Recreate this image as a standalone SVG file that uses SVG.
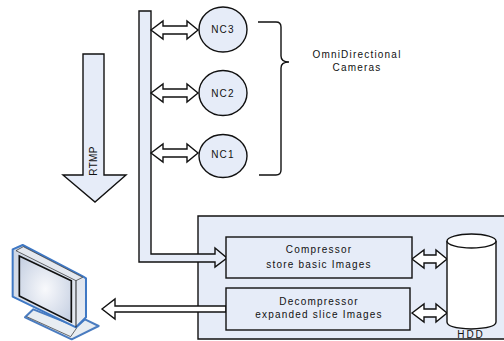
<svg xmlns="http://www.w3.org/2000/svg" width="504" height="341" viewBox="0 0 504 341">
<defs>
<radialGradient id="scr" cx="0.5" cy="0.5" r="0.65"><stop offset="0" stop-color="#f8f9fc"/><stop offset="1" stop-color="#c6d0e2"/></radialGradient>
<linearGradient id="bez" x1="0" y1="0" x2="1" y2="1"><stop offset="0" stop-color="#ccd5e4"/><stop offset="1" stop-color="#e9edf3"/></linearGradient>
</defs>
<style>
.f{fill:#e6ecf8;stroke:#111;stroke-width:1.4}
.w{fill:#fff;stroke:#111;stroke-width:1.4}
.t{font-family:"Liberation Sans",Arial,sans-serif;font-size:10px;fill:#111;text-anchor:middle;letter-spacing:1.2px}
</style>
<rect width="504" height="341" fill="#fff"/>
<g id="server"><path class="f" d="M505 216H198V339H505"/></g>
<g id="connectors">
<path id="bus" class="f" d="M139 11H151V254H215V248L227 258L215 267V262H139Z"/>
<path class="w" d="M151 30L163 21V26H187V21L198 30L187 39V34H163V39Z"/>
<path class="w" d="M151 93L163 84V89H187V84L198 93L187 102V97H163V102Z"/>
<path class="w" d="M151 153L163 144V149H187V144L198 153L187 162V157H163V162Z"/>
<path class="w" d="M412 259L424 250V255H436V250L447 259L436 268V263H424V268Z"/>
<path class="w" d="M412 313L424 304V309H436V304L447 313L436 322V317H424V322Z"/>
<path class="w" d="M102 309L115 299V306H226V312H115V319Z"/>
</g>
<g id="rtmp"><path class="f" d="M83 54H104V175H126L95 202L63 175H83Z"/><text class="t" transform="translate(96.500 161) rotate(-90)" style="letter-spacing:.3px">RTMP</text></g>
<g id="nc3"><ellipse class="f" cx="223" cy="29.500" rx="24" ry="22.500"/><text class="t" x="223" y="33">NC3</text></g>
<g id="nc2"><ellipse class="f" cx="223" cy="93" rx="24" ry="22.500"/><text class="t" x="223" y="96.500">NC2</text></g>
<g id="nc1"><ellipse class="f" cx="223" cy="156" rx="24" ry="21.500"/><text class="t" x="223" y="157.500">NC1</text></g>
<g id="brace"><path fill="none" stroke="#111" stroke-width="1.400" d="M258 22H276Q281 22 281 27V56Q281 62 289 62Q281 62 281 68V170Q281 175 276 175H259"/></g>
<g id="label"><text class="t" x="357" y="58">OmniDirectional</text><text class="t" x="357" y="71">Cameras</text></g>
<g id="compressor"><rect class="f" x="226" y="237" width="186" height="41"/><text class="t" x="319" y="253">Compressor</text><text class="t" x="319" y="268">store basic Images</text></g>
<g id="decompressor"><rect class="f" x="226" y="288" width="184" height="42"/><text class="t" x="319" y="305">Decompressor</text><text class="t" x="319" y="318">expanded slice Images</text></g>
<g id="hdd"><path class="w" d="M447 241V322Q447 328 471 329Q496 328 496 322V241"/><ellipse class="w" cx="471.500" cy="241" rx="24.500" ry="7"/><text class="t" x="471" y="338" style="letter-spacing:2px">HDD</text></g>
<g id="monitor" transform="translate(0 230) scale(.3333)">
<path d="M75 262L100 238L230 290L255 268L296 288L215 328Z" fill="#e8edf2" stroke="#4a7cc0" stroke-width="6" stroke-linejoin="round"/>
<path d="M230 294L212 320L80 260" fill="none" stroke="#222" stroke-width="2"/>
<path d="M38 58L68 45L250 140L258 145V262L228 292L38 200Z" fill="url(#bez)" stroke="#3f78c4" stroke-width="6" stroke-linejoin="round"/>
<path d="M48 62L70 50L248 142L228 152Z" fill="#e4e8ef" stroke="#222" stroke-width="2"/>
<path d="M228 152V292" stroke="#222" stroke-width="3"/>
<path d="M58 78L214 152V276L58 198Z" fill="url(#scr)" stroke="#111" stroke-width="5"/>
</g>
</svg>
